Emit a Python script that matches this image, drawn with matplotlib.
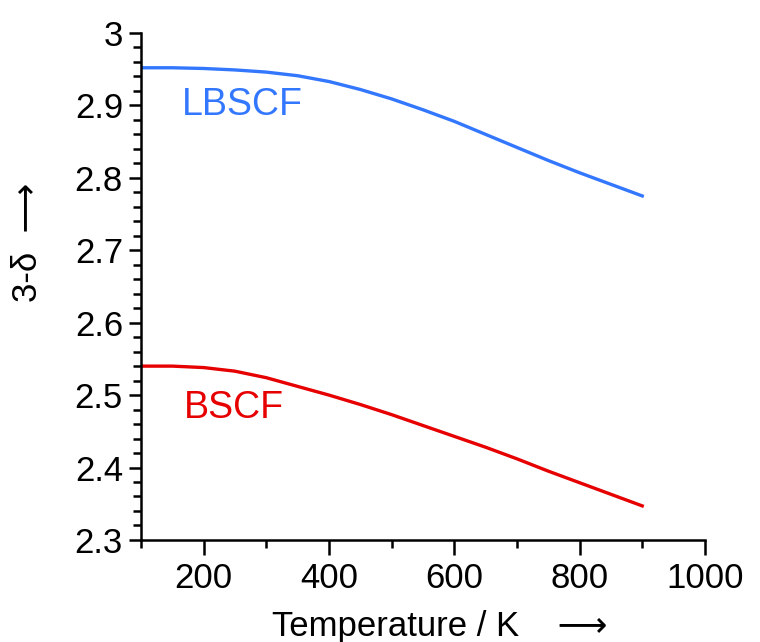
import numpy as np
import matplotlib.pyplot as plt
from matplotlib.ticker import MultipleLocator, FuncFormatter

# temperature (K) and oxygen content 3-delta
temp = [100, 150, 200, 250, 300, 350, 400, 450, 500, 550, 600, 650, 700, 750, 800, 850, 900]
lbscf = [2.952, 2.952, 2.951, 2.949, 2.946, 2.941, 2.933, 2.922, 2.909, 2.894, 2.878,
         2.860, 2.842, 2.824, 2.807, 2.791, 2.775]
bscf = [2.540, 2.540, 2.538, 2.533, 2.524, 2.512, 2.500, 2.487, 2.473, 2.458, 2.443,
        2.428, 2.412, 2.395, 2.379, 2.363, 2.347]

plt.rcParams['font.family'] = ['Liberation Sans', 'DejaVu Sans']

fig = plt.figure(figsize=(7.6, 6.42), dpi=100)
ax = fig.add_axes([0.1855, 0.159, 0.742, 0.7896])

blue = '#3377ff'
red = '#e60000'
ax.plot(temp, lbscf, color=blue, lw=2.4)
ax.plot(temp, bscf, color=red, lw=2.4)

ax.text(165, 2.9, 'LBSCF', color=blue, fontsize=27, ha='left', va='center')
ax.text(168, 2.482, 'BSCF', color=red, fontsize=27, ha='left', va='center')

ax.set_xlim(100, 1000)
ax.set_ylim(2.3, 3.0)
ax.xaxis.set_major_locator(MultipleLocator(200))
ax.xaxis.set_minor_locator(MultipleLocator(100))
ax.yaxis.set_major_locator(MultipleLocator(0.1))
ax.yaxis.set_minor_locator(MultipleLocator(0.02))
ax.yaxis.set_major_formatter(FuncFormatter(lambda v, p: '{:g}'.format(round(v, 2))))
ax.xaxis.set_major_formatter(FuncFormatter(lambda v, p: '' if v < 150 else '{:g}'.format(v)))

for s in ['top', 'right']:
    ax.spines[s].set_visible(False)
for s in ['left', 'bottom']:
    ax.spines[s].set_linewidth(1.8)

ax.tick_params(axis='both', which='major', labelsize=25, width=1.8, direction='out')
ax.tick_params(axis='both', which='minor', width=1.8, length=6, direction='out')
ax.tick_params(axis='x', which='major', length=11, pad=5)
ax.tick_params(axis='y', which='major', length=9, pad=4)

fig.text(0.578, 0.024, 'Temperature / K    \u27f6', fontsize=25, ha='center', va='center')
fig.text(0.036, 0.622, '3-\u03b4  \u27f6', fontsize=25, ha='center', va='center', rotation=90)

fig.savefig('out.png', dpi=100)
